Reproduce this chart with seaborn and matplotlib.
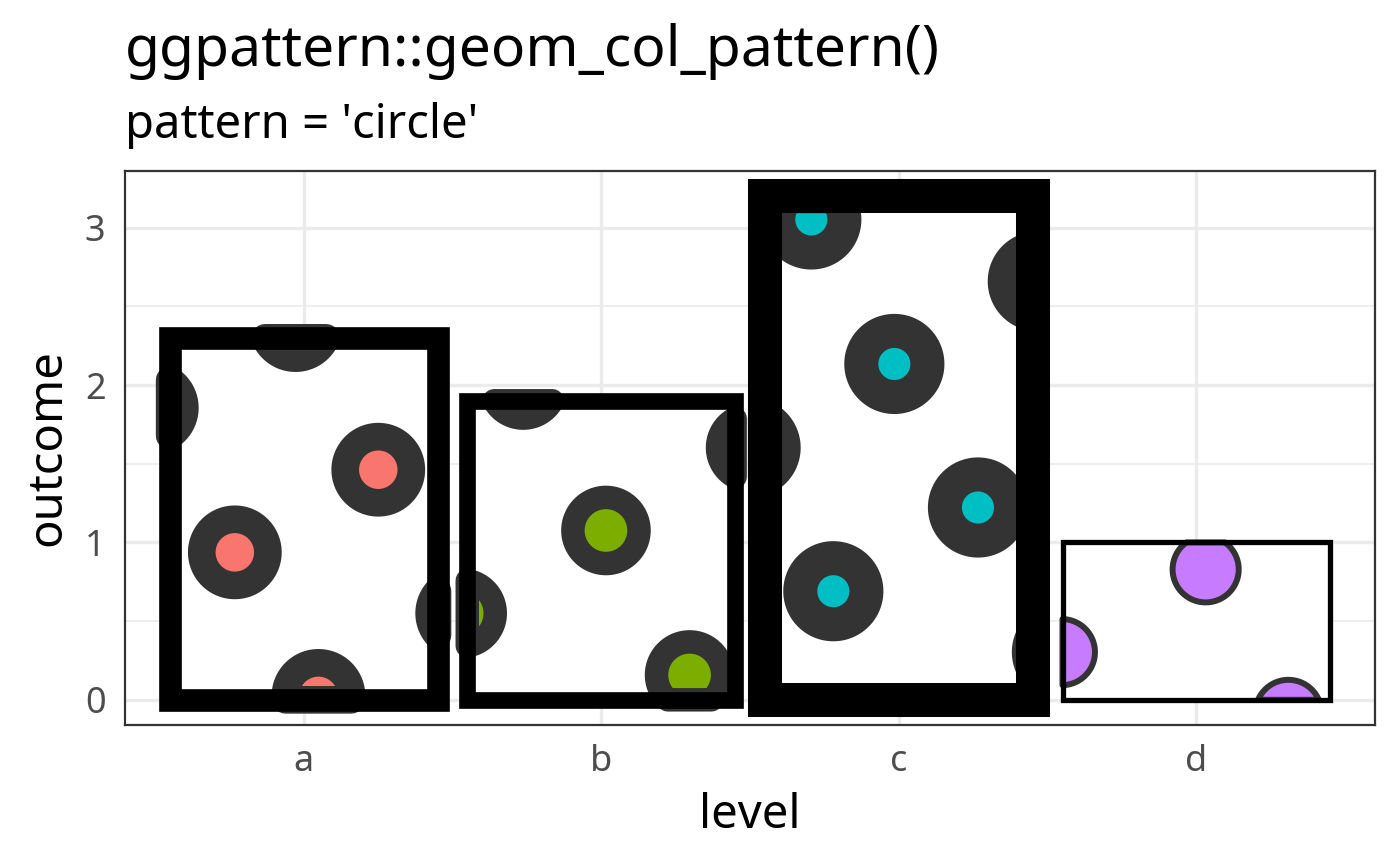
import numpy as np
import pandas as pd
import matplotlib
matplotlib.use("Agg")
import matplotlib.pyplot as plt
from matplotlib.path import Path
from matplotlib.patches import Polygon, Rectangle
from matplotlib.transforms import Bbox
import seaborn as sns

# data
levels = ["a", "b", "c", "d"]
outcome = [2.3, 1.9, 3.2, 1.0]
pattern_fill = ["#F8766D", "#7CAE00", "#00BFC4", "#C77CFF"]
border_lw = [16.3, 12.0, 24.5, 3.8]    # bar outline width (pt)
pattern_lw = [19.9, 16.9, 24.5, 4.3]   # circle outline width (pt)

# centres of the circle pattern
# (x in category units, y in outcome units)
circle_x = [-0.510, -0.027, 0.251, -0.231, 0.050, 0.533, 0.738, 1.016, 1.297,
            1.502, 1.706, 1.985, 2.467, 2.266, 1.780, 2.548, 3.031, 3.309]
circle_y = [1.855, 2.381, 1.462, 0.937, 0.025, 0.550, 2.000, 1.076, 0.158,
            1.602, 3.052, 2.134, 2.659, 1.222, 0.690, 0.303, 0.829, -0.083]
circle_r_pt = 23.8

sns.set_style("white")
plt.rcParams["font.family"] = ["Noto Sans", "DejaVu Sans"]
plt.rcParams["text.color"] = "black"
plt.rcParams["axes.labelcolor"] = "black"

fig = plt.figure(figsize=(14, 8.66), dpi=100)
ax = fig.add_axes([125 / 1400, 1 - 725 / 866, 1250 / 1400, 554 / 866])

df = pd.DataFrame({"level": levels, "outcome": outcome})
sns.barplot(data=df, x="level", y="outcome", color="white", saturation=1,
            width=0.9, linewidth=0, ax=ax, zorder=1)

ax.set_xlim(-0.6, 3.6)
ax.set_ylim(-0.16, 3.36)
ax.set_yticks([0, 1, 2, 3])
ax.set_yticks([0.5, 1.5, 2.5], minor=True)

# pattern: circles clipped to each bar, then the bar outline on top
trans = ax.transData
r_px = circle_r_pt * fig.dpi / 72
theta = np.linspace(0, 2 * np.pi, 180, endpoint=False)
for i, bar in enumerate(ax.patches[:len(levels)]):
    x0, y0 = bar.get_x(), bar.get_y()
    x1, y1 = x0 + bar.get_width(), y0 + bar.get_height()
    bb = Bbox(trans.transform([[x0, y0], [x1, y1]]))
    for cx, cy in zip(circle_x, circle_y):
        c = trans.transform((cx, cy))
        verts = np.column_stack([c[0] + r_px * np.cos(theta), c[1] + r_px * np.sin(theta)])
        verts = np.vstack([verts, verts[:1]])
        clipped = Path(verts, closed=True).clip_to_bbox(bb)
        if len(clipped.vertices) == 0:
            continue
        pts = clipped.vertices
        if clipped.codes is not None:
            pts = pts[clipped.codes != Path.CLOSEPOLY]
        # drop repeated points so the outline has no seam
        keep = np.r_[True, np.any(np.abs(np.diff(pts, axis=0)) > 1e-6, axis=1)]
        pts = pts[keep]
        if len(pts) > 2 and np.allclose(pts[0], pts[-1]):
            pts = pts[:-1]
        if len(pts) < 3:
            continue
        dv = trans.inverted().transform(pts)
        ax.add_patch(Polygon(dv, closed=True, facecolor=pattern_fill[i],
                             edgecolor="#333333", lw=pattern_lw[i],
                             joinstyle="round", zorder=2))
    ax.add_patch(Rectangle((x0, y0), x1 - x0, y1 - y0, fill=False,
                           edgecolor="black", lw=border_lw[i],
                           joinstyle="miter", zorder=3))

ax.set_axisbelow(True)
ax.grid(which="major", color="#EBEBEB", lw=2.4)
ax.grid(which="minor", axis="y", color="#EBEBEB", lw=1.2)
for s in ax.spines.values():
    s.set_color("#333333")
    s.set_linewidth(1.6)
ax.tick_params(which="major", length=9, width=2.2, color="#333333",
               labelcolor="#4D4D4D", labelsize=26, pad=5)
ax.tick_params(which="minor", length=0)

ax.set_xlabel("level", fontsize=34, labelpad=8, color="black")
ax.set_ylabel("outcome", fontsize=34, labelpad=10, color="black")

fig.text(125 / 1400, 1 - 66 / 866, "ggpattern::geom_col_pattern()",
         fontsize=41, va="baseline", ha="left", color="black")
fig.text(125 / 1400, 1 - 138 / 866, "pattern = 'circle'",
         fontsize=34, va="baseline", ha="left", color="black")

fig.savefig("out.png", dpi=100)
